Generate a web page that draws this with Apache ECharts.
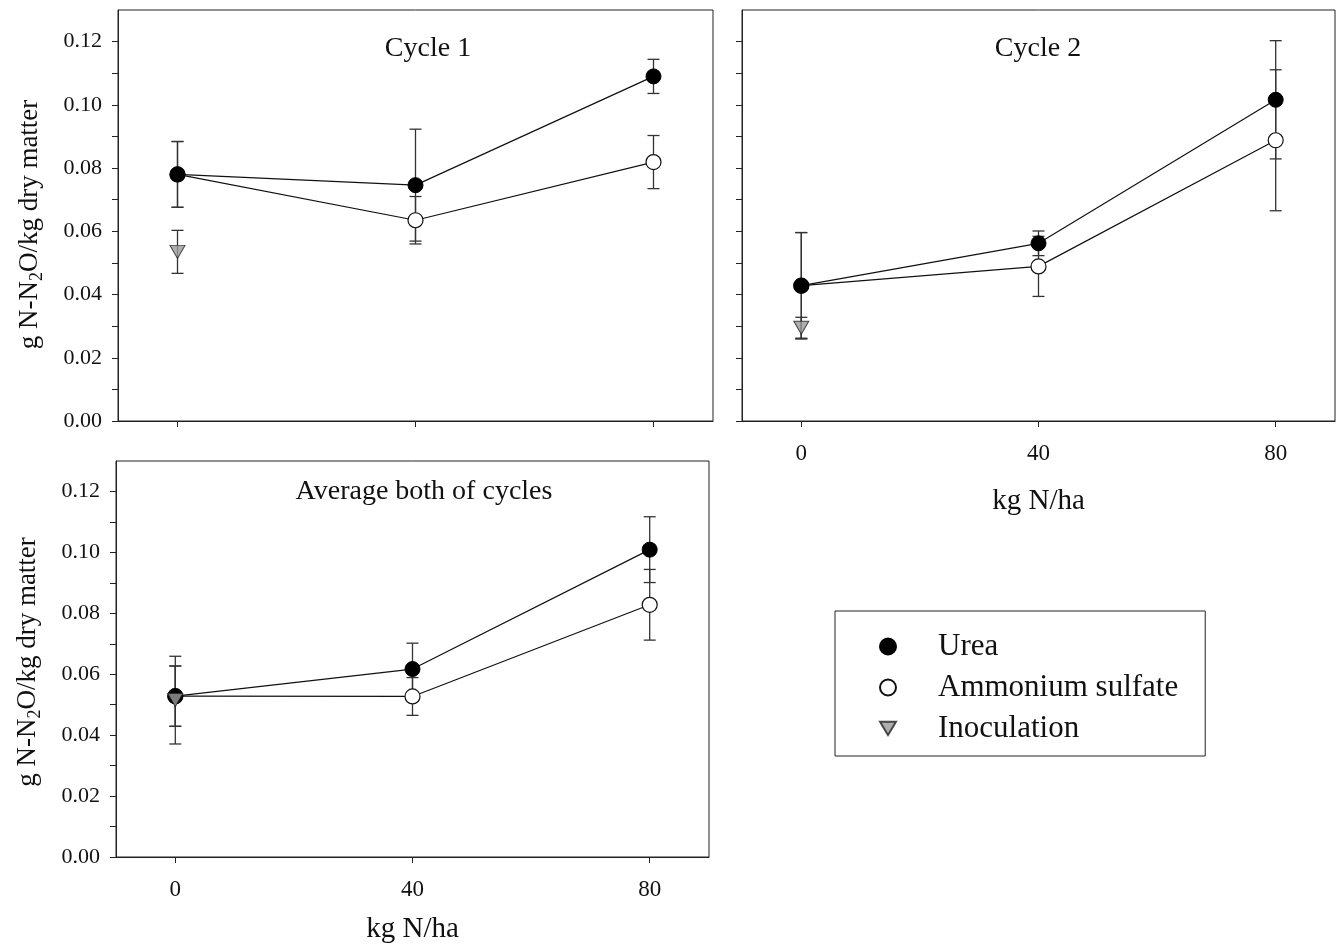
<!DOCTYPE html>
<html>
<head>
<meta charset="utf-8">
<script src="https://cdn.jsdelivr.net/npm/echarts@6/dist/echarts.min.js"></script>
<style>
html,body{margin:0;padding:0;background:#fff;}
#c{width:1338px;height:945px;}
</style>
</head>
<body>
<div id="c"></div>
<script>
// ---- data ----
var xValues = [0, 40, 80];
var xTickLabels = [0, 40, 80];
var yTickLabels = [0, 0.02, 0.04, 0.06, 0.08, 0.10, 0.12];
var yMinorTicks = [0, 0.01, 0.02, 0.03, 0.04, 0.05, 0.06, 0.07, 0.08, 0.09, 0.10, 0.11, 0.12];
var panelTitles = ['Cycle 1', 'Cycle 2', 'Average both of cycles'];
var seriesNames = ['Urea', 'Ammonium sulfate', 'Inoculation'];

// Cycle 1
var urea1 = [0.078, 0.0746, 0.109];
var ureaErr1 = [0.0104, 0.0177, 0.0054];
var as1 = [0.078, 0.0635, 0.0819];
var asErr1 = [0.0104, 0.0075, 0.0084];
var inoc1 = [0.0535];
var inocErr1 = [0.0068];
// Cycle 2
var urea2 = [0.0428, 0.0562, 0.1016];
var ureaErr2 = [0.0168, 0.0039, 0.0187];
var as2 = [0.0428, 0.0489, 0.0888];
var asErr2 = [0.0168, 0.0095, 0.0223];
var inoc2 = [0.0295];
var inocErr2 = [0.0033];
// Average of both cycles
var urea3 = [0.0528, 0.0617, 0.1009];
var ureaErr3 = [0.0099, 0.0085, 0.0108];
var as3 = [0.0528, 0.0527, 0.0828];
var asErr3 = [0.0099, 0.0062, 0.0116];
var inoc3 = [0.0515];
var inocErr3 = [0.0144];

var panels = [
  {urea: urea1, ureaErr: ureaErr1, as: as1, asErr: asErr1, inoc: inoc1, inocErr: inocErr1},
  {urea: urea2, ureaErr: ureaErr2, as: as2, asErr: asErr2, inoc: inoc2, inocErr: inocErr2},
  {urea: urea3, ureaErr: ureaErr3, as: as3, asErr: asErr3, inoc: inoc3, inocErr: inocErr3}
];

// ---- layout ----
var FONT = '"Liberation Serif", "DejaVu Serif", serif';
var grids = [
  {left: 118, top: 10, width: 595, height: 411, show: true, borderColor: '#222', borderWidth: 1, outerBoundsMode: 'none', containLabel: false},
  {left: 742, top: 10, width: 593, height: 411, show: true, borderColor: '#222', borderWidth: 1, outerBoundsMode: 'none', containLabel: false},
  {left: 116, top: 461, width: 593, height: 396, show: true, borderColor: '#222', borderWidth: 1, outerBoundsMode: 'none', containLabel: false}
];
var showXLabels = [false, true, true];
var showYLabels = [true, false, true];
var xNameGap = [0, 66, 58];
var yNameShift = [18, 0, 6];

var TRI_DOWN = 'path://M0,0 L12,0 L6,10 Z';

var xAxes = [], yAxes = [], series = [];
for (var i = 0; i < 3; i++) {
  xAxes.push({
    gridIndex: i, type: 'value', min: -10, max: 90,
    name: showXLabels[i] ? 'kg N/ha' : '',
    nameLocation: 'middle', nameGap: xNameGap[i],
    nameTextStyle: {fontFamily: FONT, fontSize: 29, color: '#111'},
    axisLine: {show: true, onZero: false, lineStyle: {color: '#222', width: 1}},
    axisTick: {show: true, length: 6, customValues: xTickLabels, lineStyle: {color: '#222'}},
    axisLabel: {show: showXLabels[i], customValues: xTickLabels, margin: 21,
      fontFamily: FONT, fontSize: 23, color: '#111'},
    splitLine: {show: false}
  });
  yAxes.push({
    gridIndex: i, type: 'value', min: 0, max: 0.13,
    name: showYLabels[i] ? '{a|g N-N}{s|2}{e|O/kg dry matter}' : '',
    nameLocation: 'middle', nameGap: 72, nameRotate: 90,
    nameTextStyle: {rich: {
      a: {fontFamily: FONT, fontSize: 27, color: '#111'},
      s: {fontFamily: FONT, fontSize: 18, color: '#111', padding: [14, 0, 0, 0]},
      e: {fontFamily: FONT, fontSize: 27, color: '#111', padding: [0, yNameShift[i], 0, 0]}
    }},
    axisLine: {show: true, onZero: false, lineStyle: {color: '#222', width: 1}},
    axisTick: {show: true, length: 6, customValues: yMinorTicks, lineStyle: {color: '#222'}},
    axisLabel: {show: showYLabels[i], customValues: yTickLabels, margin: 16,
      fontFamily: FONT, fontSize: 22, color: '#111',
      formatter: function (v) { return v.toFixed(2); }},
    splitLine: {show: false}
  });
}

function errRender(params, api) {
  var x = api.value(0), y = api.value(1), e = api.value(2);
  var top = api.coord([x, y + e]);
  var bot = api.coord([x, y - e]);
  var hw = 6;
  var st = {stroke: '#333', lineWidth: 1.3, fill: null};
  return {
    type: 'group',
    children: [
      {type: 'line', shape: {x1: top[0], y1: top[1], x2: bot[0], y2: bot[1]}, style: st},
      {type: 'line', shape: {x1: top[0] - hw, y1: top[1], x2: top[0] + hw, y2: top[1]}, style: st},
      {type: 'line', shape: {x1: bot[0] - hw, y1: bot[1], x2: bot[0] + hw, y2: bot[1]}, style: st}
    ]
  };
}

function zip(xs, ys) { return ys.map(function (v, k) { return [xs[k], v]; }); }
function zip3(xs, ys, es) { return ys.map(function (v, k) { return [xs[k], v, es[k]]; }); }

for (var p = 0; p < 3; p++) {
  var d = panels[p];
  [[d.as, d.asErr], [d.urea, d.ureaErr], [d.inoc, d.inocErr]].forEach(function (pair) {
    series.push({
      type: 'custom', xAxisIndex: p, yAxisIndex: p, z: 1, silent: true,
      renderItem: errRender,
      encode: {x: 0, y: 1},
      data: zip3(xValues, pair[0], pair[1])
    });
  });
  series.push({
    name: seriesNames[1], type: 'line', xAxisIndex: p, yAxisIndex: p, z: 3,
    data: zip(xValues, d.as), symbol: 'circle', symbolSize: 15, showSymbol: true,
    lineStyle: {color: '#111', width: 1.2},
    itemStyle: {color: '#ffffff', borderColor: '#111', borderWidth: 1.2},
    animation: false
  });
  series.push({
    name: seriesNames[0], type: 'line', xAxisIndex: p, yAxisIndex: p, z: 3,
    data: zip(xValues, d.urea), symbol: 'circle', symbolSize: 15,
    lineStyle: {color: '#111', width: 1.2},
    itemStyle: {color: '#000000', borderColor: '#000', borderWidth: 1},
    animation: false
  });
  series.push({
    name: seriesNames[2], type: 'scatter', xAxisIndex: p, yAxisIndex: p, z: 4,
    data: zip(xValues, d.inoc), symbol: TRI_DOWN, symbolSize: [15, 13],
    itemStyle: {color: '#9a9a9a', borderColor: '#222', borderWidth: 1},
    animation: false
  });
}

var titleStyle = {fontFamily: FONT, fontSize: 28, fontWeight: 'normal', color: '#111'};
var option = {
  animation: false,
  backgroundColor: '#ffffff',
  title: [
    {text: panelTitles[0], left: 428, top: 35, textAlign: 'center', padding: 0, textStyle: titleStyle},
    {text: panelTitles[1], left: 1038, top: 35, textAlign: 'center', padding: 0, textStyle: titleStyle},
    {text: panelTitles[2], left: 424, top: 478, textAlign: 'center', padding: 0, textStyle: titleStyle}
  ],
  legend: {
    data: [
      {name: seriesNames[0], icon: 'circle'},
      {name: seriesNames[1], icon: 'circle'},
      {name: seriesNames[2], icon: TRI_DOWN}
    ],
    orient: 'vertical', left: 835, top: 611,
    padding: [20, 27, 12, 44],
    itemGap: 10, itemWidth: 16, itemHeight: 16,
    borderColor: '#222', borderWidth: 1,
    textStyle: {fontFamily: FONT, fontSize: 31, color: '#111', padding: [0, 0, 0, 37]},
    selectedMode: false
  },
  grid: grids,
  xAxis: xAxes,
  yAxis: yAxes,
  series: series
};

var chart = echarts.init(document.getElementById('c'), null, {renderer: 'canvas'});
chart.setOption(option);
</script>
</body>
</html>
